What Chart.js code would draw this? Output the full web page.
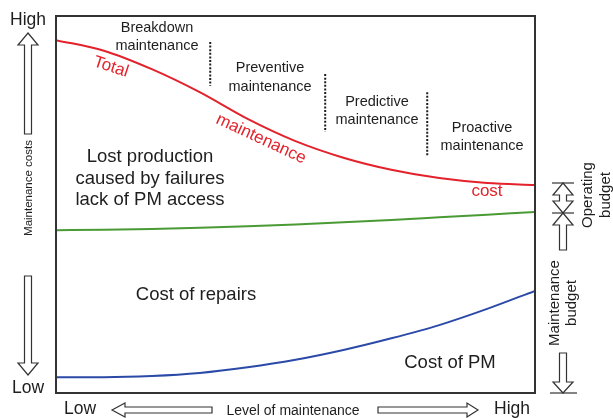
<!DOCTYPE html>
<html>
<head>
<meta charset="utf-8">
<script src="https://cdn.jsdelivr.net/npm/chart.js@4/dist/chart.umd.min.js"></script>
<style>
  html, body { margin: 0; padding: 0; background: #fff; }
  canvas { display: block; }
</style>
</head>
<body>
<canvas id="chart" width="613" height="418"></canvas>
<script>
// level of maintenance (0 = low, 100 = high) and relative cost (0 = low, 100 = high)
const LEVELS = [0, 10, 20, 30, 40, 50, 60, 70, 80, 90, 100];
const TOTAL_COST = [93.6, 90.8, 85.9, 79.8, 72.7, 66.8, 62.4, 59.2, 57.0, 55.7, 55.2];
const REPAIR_COST = [43.2, 43.3, 43.5, 43.8, 44.2, 44.7, 45.3, 45.9, 46.6, 47.3, 48.0];
const PM_COST = [4.2, 4.2, 4.5, 5.3, 6.8, 8.8, 11.4, 14.5, 18.0, 22.3, 27.1];

// phase boundaries (dotted lines): x level, y from, y to
const PHASES = [
  [32.2, 93.1, 81.4],
  [56.2, 84.6, 69.2],
  [77.5, 79.8, 62.6]
];

const FONT = '"Liberation Sans", Arial, Helvetica, sans-serif';
const INK = '#1e1e1e';
const RED = '#e3222b';

function pts(ys) {
  return LEVELS.map((x, i) => ({ x, y: ys[i] }));
}

function line(label, ys, color) {
  return {
    label, data: pts(ys), borderColor: color, borderWidth: 2,
    pointRadius: 0, cubicInterpolationMode: 'monotone', fill: false
  };
}

function text(ctx, lines, x, y, size, opts = {}) {
  ctx.save();
  ctx.translate(x, y);
  if (opts.rot) ctx.rotate(opts.rot * Math.PI / 180);
  ctx.font = size + 'px ' + FONT;
  ctx.fillStyle = opts.color || INK;
  ctx.textAlign = 'center';
  ctx.textBaseline = 'middle';
  const lh = opts.lh || size * 1.2;
  const arr = [].concat(lines);
  arr.forEach((s, i) => ctx.fillText(s, 0, (i - (arr.length - 1) / 2) * lh));
  ctx.restore();
}

function poly(ctx, p) {
  ctx.beginPath();
  ctx.moveTo(p[0][0], p[0][1]);
  p.slice(1).forEach(q => ctx.lineTo(q[0], q[1]));
  ctx.closePath();
  ctx.fillStyle = '#fff';
  ctx.fill();
  ctx.strokeStyle = '#333';
  ctx.lineWidth = 1.2;
  ctx.stroke();
}

// hollow vertical arrow
function arrowV(ctx, cx, tip, head, tail, hw, sw) {
  poly(ctx, [[cx, tip], [cx + hw, head], [cx + sw, head], [cx + sw, tail],
    [cx - sw, tail], [cx - sw, head], [cx - hw, head]]);
}

// hollow horizontal arrow
function arrowH(ctx, cy, tip, head, tail, hh, sh) {
  poly(ctx, [[tip, cy], [head, cy - hh], [head, cy - sh], [tail, cy - sh],
    [tail, cy + sh], [head, cy + sh], [head, cy + hh]]);
}

function hline(ctx, x1, x2, y) {
  ctx.beginPath();
  ctx.moveTo(x1, y);
  ctx.lineTo(x2, y);
  ctx.strokeStyle = '#333';
  ctx.lineWidth = 1.2;
  ctx.stroke();
}

const overlay = {
  id: 'overlay',
  afterDatasetsDraw(chart) {
    const ctx = chart.ctx, a = chart.chartArea;
    const sx = chart.scales.x, sy = chart.scales.y;

    // frame
    ctx.save();
    ctx.strokeStyle = '#333';
    ctx.lineWidth = 2;
    ctx.strokeRect(a.left, a.top, a.right - a.left, a.bottom - a.top);

    // phase dividers
    ctx.strokeStyle = INK;
    ctx.setLineDash([2, 1.6]);
    PHASES.forEach(([x, y1, y2]) => {
      ctx.beginPath();
      ctx.moveTo(sx.getPixelForValue(x), sy.getPixelForValue(y1));
      ctx.lineTo(sx.getPixelForValue(x), sy.getPixelForValue(y2));
      ctx.stroke();
    });
    ctx.restore();

    // phase labels
    text(ctx, ['Breakdown', 'maintenance'], 157, 37, 14.5, { lh: 18 });
    text(ctx, ['Preventive', 'maintenance'], 270, 77.5, 14.5, { lh: 19 });
    text(ctx, ['Predictive', 'maintenance'], 377, 111, 14.5, { lh: 18 });
    text(ctx, ['Proactive', 'maintenance'], 482, 137, 14.5, { lh: 18 });

    // area labels
    text(ctx, ['Lost production', 'caused by failures', 'lack of PM access'], 150, 178.5, 18.5, { lh: 21.5 });
    text(ctx, 'Cost of repairs', 196, 295, 18.5);
    text(ctx, 'Cost of PM', 450, 363, 18.5);

    // total maintenance cost label along the red curve
    text(ctx, 'Total', 111, 67, 17, { color: RED, rot: 18 });
    text(ctx, 'maintenance', 261, 139, 17, { color: RED, rot: 25 });
    text(ctx, 'cost', 487, 191, 17, { color: RED });

    // vertical axis
    text(ctx, 'High', 28, 20, 17.5);
    text(ctx, 'Low', 28, 388, 17.5);
    arrowV(ctx, 28, 33, 45, 134, 10, 3.5);
    arrowV(ctx, 28, 375, 363, 276, 10, 3.5);
    text(ctx, 'Maintenance costs', 28.5, 188, 11.5, { rot: -90 });

    // horizontal axis
    text(ctx, 'Low', 80, 409, 17.5);
    text(ctx, 'High', 512, 409, 17.5);
    arrowH(ctx, 410, 112, 125, 212, 7, 3);
    arrowH(ctx, 410, 478, 467, 378, 7, 3);
    text(ctx, 'Level of maintenance', 293, 411, 14);

    // budgets on the right
    hline(ctx, 552, 574, 183);
    poly(ctx, [[563, 183], [573, 195], [566.5, 195], [566.5, 201], [573, 201], [563, 213],
      [553, 201], [559.5, 201], [559.5, 195], [553, 195]]);
    arrowV(ctx, 563, 213, 225, 250, 10, 3.5);
    hline(ctx, 552, 574, 213);
    arrowV(ctx, 563, 393, 382, 353, 10, 3.5);
    hline(ctx, 550, 577, 393);
    text(ctx, ['Maintenance', 'budget'], 563.5, 303, 15, { rot: -90, lh: 17 });
    text(ctx, ['Operating', 'budget'], 597, 195, 15, { rot: -90, lh: 18 });
  }
};

new Chart(document.getElementById('chart'), {
  type: 'line',
  data: {
    datasets: [
      line('Total maintenance cost', TOTAL_COST, RED),
      line('Cost of repairs', REPAIR_COST, '#4a9a35'),
      line('Cost of PM', PM_COST, '#2b4aa8')
    ]
  },
  options: {
    responsive: false,
    animation: false,
    layout: { padding: { left: 56, right: 78, top: 16, bottom: 25 } },
    plugins: { legend: { display: false }, tooltip: { enabled: false } },
    scales: {
      x: { type: 'linear', min: 0, max: 100, display: false },
      y: { min: 0, max: 100, display: false }
    }
  },
  plugins: [overlay]
});
</script>
</body>
</html>
